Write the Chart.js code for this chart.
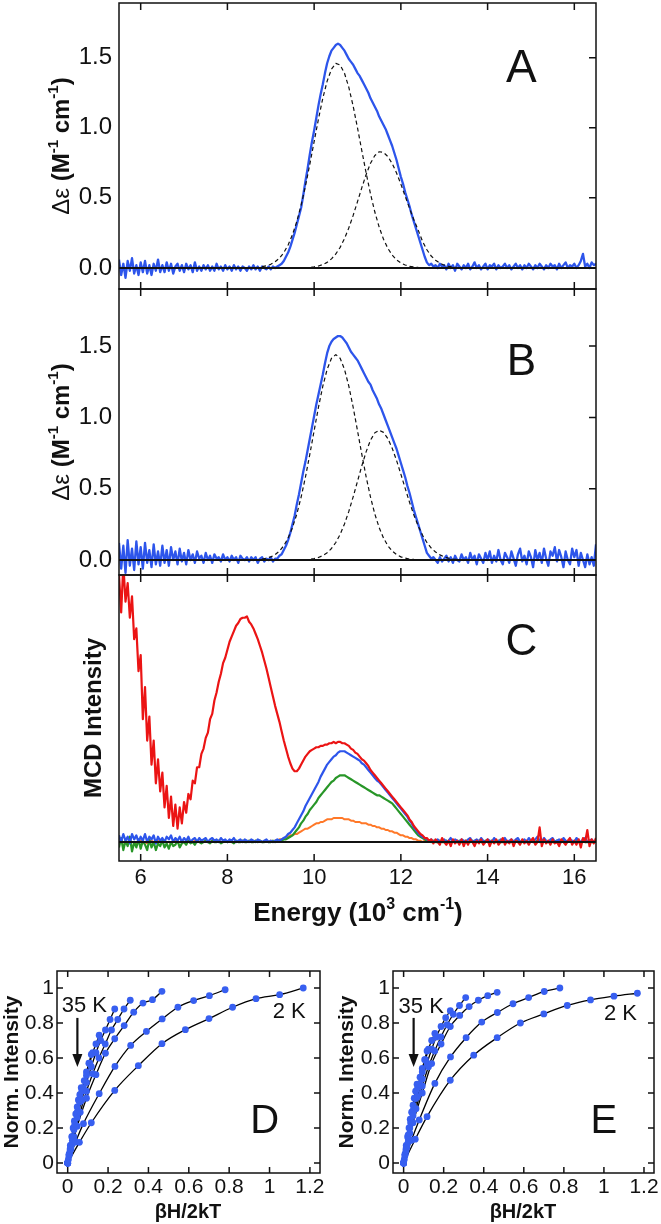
<!DOCTYPE html>
<html>
<head>
<meta charset="utf-8">
<script src="https://cdn.jsdelivr.net/npm/chart.js@4.4.1/dist/chart.umd.min.js"></script>
<style>
  body { margin: 0; background: #fff; width: 661px; height: 1224px; position: relative; overflow: hidden; }
  canvas { position: absolute; }
</style>
</head>
<body>
<canvas id="panelA" width="661" height="300" style="left:0;top:0"></canvas>
<canvas id="panelB" width="661" height="310" style="left:0;top:280px"></canvas>
<canvas id="panelC" width="661" height="370" style="left:0;top:566px"></canvas>
<canvas id="panelD" width="330" height="284" style="left:0;top:940px"></canvas>
<canvas id="panelE" width="331" height="284" style="left:330px;top:940px"></canvas>
<script>
// --- tick labels ---
const energyTicks = [6, 8, 10, 12, 14, 16];
const epsTicks = [0, 0.5, 1.0, 1.5];
const satTicksX = [0, 0.2, 0.4, 0.6, 0.8, 1, 1.2];
const satTicksY = [0, 0.2, 0.4, 0.6, 0.8, 1];

// --- energy grid of the spectra (10^3 cm-1) ---
const energy = [
  5.50,5.55,5.60,5.65,5.70,5.75,5.80,5.85,5.90,5.95,
  6.00,6.05,6.10,6.15,6.20,6.25,6.30,6.35,6.40,6.45,
  6.50,6.55,6.60,6.65,6.70,6.75,6.80,6.85,6.90,6.95,
  7.00,7.05,7.10,7.15,7.20,7.25,7.30,7.35,7.40,7.45,
  7.50,7.55,7.60,7.65,7.70,7.75,7.80,7.85,7.90,7.95,
  8.00,8.05,8.10,8.15,8.20,8.25,8.30,8.35,8.40,8.45,
  8.50,8.55,8.60,8.65,8.70,8.75,8.80,8.85,8.90,8.95,
  9.00,9.05,9.10,9.15,9.20,9.25,9.30,9.35,9.40,9.45,
  9.50,9.55,9.60,9.65,9.70,9.75,9.80,9.85,9.90,9.95,
  10.00,10.05,10.10,10.15,10.20,10.25,10.30,10.35,10.40,10.45,
  10.50,10.55,10.60,10.65,10.70,10.75,10.80,10.85,10.90,10.95,
  11.00,11.05,11.10,11.15,11.20,11.25,11.30,11.35,11.40,11.45,
  11.50,11.55,11.60,11.65,11.70,11.75,11.80,11.85,11.90,11.95,
  12.00,12.05,12.10,12.15,12.20,12.25,12.30,12.35,12.40,12.45,
  12.50,12.55,12.60,12.65,12.70,12.75,12.80,12.85,12.90,12.95,
  13.00,13.05,13.10,13.15,13.20,13.25,13.30,13.35,13.40,13.45,
  13.50,13.55,13.60,13.65,13.70,13.75,13.80,13.85,13.90,13.95,
  14.00,14.05,14.10,14.15,14.20,14.25,14.30,14.35,14.40,14.45,
  14.50,14.55,14.60,14.65,14.70,14.75,14.80,14.85,14.90,14.95,
  15.00,15.05,15.10,15.15,15.20,15.25,15.30,15.35,15.40,15.45,
  15.50,15.55,15.60,15.65,15.70,15.75,15.80,15.85,15.90,15.95,
  16.00,16.05,16.10,16.15,16.20,16.25,16.30,16.35,16.40,16.45,
  16.50
];

// panel A, measured CD
const cdA = [
  0.06,-0.05,0.03,-0.07,0.05,-0.02,0.07,-0.04,0.02,-0.05,
  0.04,-0.03,0.05,-0.04,0.02,-0.05,0.03,-0.02,0.06,-0.03,
  0.02,-0.03,0.04,-0.02,0.03,-0.04,0.01,0.03,-0.02,0.02,
  -0.03,0.03,-0.01,0.02,-0.03,0.04,-0.02,0.01,-0.02,0.02,
  -0.01,0.02,-0.02,0.01,-0.02,0.03,-0.01,0.01,-0.02,0.02,
  -0.01,0.01,-0.02,0.02,-0.01,0.01,-0.02,0.01,0.00,-0.02,
  0.01,-0.01,0.02,-0.01,0.01,-0.02,0.01,0.00,-0.01,0.01,
  -0.01,0.01,0.00,0.01,0.02,0.03,0.05,0.08,0.11,0.15,
  0.20,0.25,0.31,0.37,0.43,0.52,0.62,0.71,0.81,0.90,
  0.98,1.07,1.16,1.24,1.31,1.39,1.46,1.51,1.55,1.57,
  1.59,1.60,1.59,1.57,1.55,1.52,1.49,1.47,1.45,1.42,
  1.39,1.37,1.34,1.31,1.28,1.25,1.21,1.18,1.15,1.12,
  1.08,1.05,1.02,0.99,0.95,0.91,0.87,0.82,0.77,0.71,
  0.65,0.60,0.54,0.49,0.44,0.38,0.33,0.28,0.23,0.18,
  0.13,0.08,0.04,0.02,0.03,0.01,0.02,0.00,0.03,0.01,
  0.02,-0.01,0.03,0.00,0.02,-0.02,0.03,0.01,-0.01,0.02,
  0.00,0.03,-0.01,0.01,0.04,0.00,0.02,-0.01,0.01,0.03,
  -0.01,0.02,0.01,0.03,-0.01,0.02,0.00,0.01,0.03,0.00,
  0.02,-0.01,0.01,0.03,0.00,0.02,-0.01,0.02,0.00,0.03,
  0.01,-0.01,0.02,0.00,0.03,0.01,-0.01,0.02,0.00,0.03,
  0.01,0.02,-0.01,0.03,0.00,0.02,0.04,0.00,0.02,0.01,
  0.03,0.00,0.02,0.05,0.10,0.01,0.03,0.00,0.04,0.02,
  0.03
];

// panel B, measured CD
const cdB = [
  0.12,-0.06,0.10,-0.09,0.14,-0.04,0.08,-0.07,0.13,-0.03,
  0.09,-0.06,0.12,-0.02,0.07,-0.05,0.11,-0.03,0.06,-0.04,
  0.10,-0.02,0.07,-0.04,0.09,0.00,0.06,-0.03,0.08,-0.01,
  0.05,-0.03,0.07,0.00,0.04,-0.02,0.06,0.01,0.03,-0.02,
  0.05,0.00,0.03,-0.02,0.04,0.01,0.02,-0.01,0.04,0.00,
  0.02,-0.01,0.03,0.00,0.02,-0.02,0.03,0.01,0.00,0.02,
  -0.01,0.02,0.00,0.02,-0.02,0.01,0.02,-0.01,0.01,0.00,
  0.02,-0.01,0.01,0.01,0.03,0.04,0.07,0.10,0.14,0.19,
  0.25,0.31,0.39,0.46,0.54,0.62,0.69,0.77,0.85,0.93,
  1.01,1.09,1.16,1.23,1.30,1.38,1.45,1.50,1.53,1.55,
  1.56,1.57,1.57,1.56,1.54,1.52,1.49,1.46,1.44,1.42,
  1.40,1.37,1.34,1.31,1.28,1.25,1.23,1.19,1.16,1.13,
  1.09,1.06,1.02,0.98,0.94,0.90,0.86,0.82,0.78,0.73,
  0.68,0.63,0.58,0.52,0.47,0.41,0.35,0.30,0.25,0.20,
  0.15,0.10,0.05,0.03,0.01,0.02,0.00,-0.02,0.02,-0.01,
  0.01,0.03,-0.01,0.02,-0.02,0.03,0.00,-0.01,0.04,0.00,
  0.02,-0.02,0.05,0.00,0.03,-0.03,0.04,0.01,-0.02,0.05,
  0.00,0.06,-0.02,0.03,-0.01,0.07,0.00,-0.03,0.05,0.02,
  -0.02,0.06,0.01,-0.04,0.04,0.08,-0.01,0.03,-0.03,0.06,
  0.02,-0.05,0.07,0.00,0.05,-0.02,0.08,0.01,-0.04,0.06,
  0.03,0.09,-0.01,0.07,0.02,-0.05,0.06,0.00,-0.03,0.08,
  0.02,0.07,-0.04,0.05,0.00,-0.05,0.04,-0.03,0.02,-0.04,
  0.11
];

// Gaussian fit components (A and B), on their own grid
const fitEnergy = [
  8.8,8.9,9.0,9.1,9.2,9.3,9.4,9.5,9.6,9.7,
  9.8,9.9,10.0,10.1,10.2,10.3,10.4,10.5,10.6,10.7,
  10.8,10.9,11.0,11.1,11.2,11.3,11.4,11.5,11.6,11.7,
  11.8,11.9,12.0,12.1,12.2,12.3,12.4,12.5,12.6,12.7,
  12.8,12.9,13.0,13.1,13.2,13.3,13.4
];
const fitA1 = [
  0.009,0.015,0.026,0.044,0.070,0.109,0.164,0.237,0.331,0.448,
  0.585,0.739,0.902,1.063,1.211,1.333,1.418,1.459,1.448,1.389,
  1.288,1.154,0.999,0.836,0.676,0.528,0.399,0.291,0.205,0.140,
  0.092,0.058,0.036,0.021,0.012,0.007,0.004,0.002,0.001,0,
  0,0,0,0,0,0,0
];
const fitA2 = [
  0,0,0,0,0,0,0,0,0,0,
  0.002,0.004,0.008,0.014,0.024,0.040,0.065,0.100,0.147,0.209,
  0.286,0.375,0.473,0.573,0.667,0.747,0.802,0.829,0.824,0.795,
  0.745,0.678,0.598,0.512,0.426,0.344,0.270,0.190,0.130,0.085,
  0.055,0.035,0.020,0.012,0.006,0.003,0.001
];
const fitB1 = [
  0.007,0.013,0.022,0.038,0.063,0.100,0.154,0.227,0.322,0.441,
  0.582,0.740,0.907,1.071,1.219,1.337,1.414,1.440,1.414,1.337,
  1.219,1.071,0.907,0.740,0.582,0.441,0.322,0.227,0.154,0.100,
  0.063,0.038,0.022,0.013,0.007,0.004,0.002,0.001,0,0,
  0,0,0,0,0,0,0
];
const fitB2 = [
  0,0,0,0,0,0,0,0,0,0,
  0,0.006,0.010,0.018,0.031,0.051,0.081,0.123,0.180,0.253,
  0.341,0.443,0.552,0.661,0.760,0.840,0.892,0.910,0.895,0.852,
  0.784,0.699,0.602,0.502,0.405,0.316,0.239,0.174,0.123,0.084,
  0.056,0.036,0.022,0.013,0.007,0.004,0.002
];

// panel C, MCD (arbitrary units)
const mcdRed = [
  100,86,104,90,97,84,92,76,80,64,
  70,46,58,38,47,29,38,22,31,19,
  26,13,21,9,17,6,14,5,13,7,
  15,11,18,16,23,22,28,28,33,35,
  39,41,46,48,53,56,60,63,67,69,
  72,75,77,79,81,82,83.5,84,84,84.5,
  82.5,81.5,80,78,76,73.5,71,68,65,61.5,
  58,54.5,51,48,45,41.5,38,35,32,29.5,
  27.5,26.5,26.5,27.5,29,30.5,32,33,34,34.5,
  35,35.5,35.5,36,36,36.5,36.5,37,37,37.5,
  37,37.5,37.5,37,37,36.5,36,35,34.5,33.5,
  33,32,31,30.5,29.5,28.5,27,26,25,24,
  23,22,21,20,19,18,17,16,15,14,
  13,12,11,10,8.5,7.5,6,5,4,3,
  2.5,1.5,1.5,0.5,1,-0.5,1,0,-1,1.5,
  0,-1,0.5,-1.5,1,-0.5,0.5,-1,1,-1.5,
  0.5,-1,1,0,-1.5,0.5,-0.5,1,-1,0,
  1,-1.5,0.5,-0.5,1,-1,0,1.5,-1,0.5,
  -0.5,1,-1.5,0.5,0,-1,1,-0.5,0.5,-1,
  0.5,1.5,-1,0,5.5,-1.5,1,-0.5,0.5,-1,
  1,-0.5,0,-1.5,1,0,-1,0.5,1.5,-1,
  0.5,-1,1,-2,1.5,0,4.5,-1.5,1,-0.5,
  1.5
];
const mcdBlue = [
  2.5,0,3,0.5,2,-0.5,3,1,2.5,0,
  2,0.5,3,0,2,1,2.5,-0.5,2,0.5,
  1.5,0,2,1,2.5,0,1.5,0.5,2,0,
  1.5,0.5,2,0,1,1.5,0,1.5,0.5,1,
  1.5,0,1,1.5,0.5,1,0,1.5,0.5,1,
  0,1,0.5,1.5,0,0.5,1,0,1,0.5,
  0,1,0.5,0,1,0.5,0,0.5,1,0,
  0.5,0,0.5,1,0.5,1,1.5,2,3,3.5,
  4.5,5.5,7,8.5,10,11.5,13.5,15,16.5,18,
  19.5,21,22.5,24.5,26,27.5,29,30,31,32,
  32.5,33.5,34,34,34,33.5,33,32.5,32,31.5,
  31,30.5,29.5,29,28,27,26,25,24,23,
  22.5,21.5,20.5,19.5,18.5,17.5,16.5,15.5,14.5,13.5,
  12.5,11.5,10.5,9.5,8,7,5.5,4.5,3.5,2.5,
  2,1.5,1,0.5,1,0,0.5,1,0,0.5,
  1,0,0.5,1.5,0,1,0.5,0,1,0.5,
  0,1,1.5,0,0.5,1,0,1.5,0.5,0,
  1,0.5,0,1.5,0.5,0,1,0.5,1.5,0,
  0.5,1,0,1,1.5,0,0.5,1,0,1.5,
  0.5,0,1,2,0.5,0,1.5,0.5,0,1,
  1.5,0,0.5,1,0,1.5,0.5,0,1,0.5,
  0,1.5,0.5,0,1,1.5,0,0.5,1,0,
  0.5
];
const mcdGreen = [
  -2,1.5,-3,0.5,-1.5,2,-3.5,0,-2,1,
  -2.5,0.5,-1,-3,1,-2,0,-3,-0.5,-1.5,
  0.5,-2,-0.5,-2.5,0,-1.5,-1,0.5,-2,-0.5,
  0,-1,0.5,-0.5,0,-1,0.5,0,-0.5,0,
  0.5,0,-0.5,0.5,0,0,0.5,-0.5,0,0.5,
  0,0.5,0,-0.5,0.5,0,0,0.5,0,0,
  0.5,0,0,0.5,0,0.5,0,0,0.5,0,
  0,0.5,0,0.5,0.5,0.5,1,1,1.5,2,
  2.5,3.5,4.5,5.5,7,8,9.5,10.5,12,13,
  14,15,16.5,17.5,18.5,19.5,20.5,21.5,22.5,23,
  24,24.5,25,25,25,24.5,24,23.5,23,22.5,
  22,21.5,21,20.5,20,19.5,19,18.5,18,17.5,
  17.5,17,16.5,16,15.5,15,14.5,13.5,12.5,11.5,
  10.5,9.5,8.5,7.5,6.5,5.5,4.5,3.5,2.5,2,
  1.5,1,0.5,0.5,0,0.5,0,0,0.5,0,
  0,0.5,0,0,0.5,0,0,0.5,0,0,
  0.5,0,0,0.5,0,0,0.5,0,0,0.5,
  0,0,0.5,0,0,0.5,0,0,0.5,0,
  0,0.5,0,0,0.5,0,0,0.5,0,0,
  0.5,0,0,0.5,0,0,0.5,0,0,0.5,
  0,0,0.5,0,0,0.5,0,0,0.5,0,
  0,0.5,0,0,0.5,0,0,0.5,0,0,
  0.5
];
const mcdOrange = [
  0,0.5,0,-0.5,0,0.5,0,0,-0.5,0,
  0.5,0,0,-0.5,0,0.5,0,0,0.5,0,
  0,0.5,0,0,-0.5,0,0.5,0,0,0.5,
  0,0,0.5,0,0,0.5,0,0,0.5,0,
  0.5,0,0,0.5,0,0,0.5,0,0,0.5,
  0,0.5,0,0,0.5,0,0,0.5,0,0,
  0.5,0,0,0.5,0,0.5,0,0,0.5,0,
  0.5,0,0.5,0.5,1,1,1.5,1.5,2,2.5,
  2.5,3,3,3.5,4,4.5,5,5,5.5,6,
  6.5,7,7,7.5,7.5,8,8.5,8.5,8.5,9,
  9,9,9,9,8.5,8.5,8.5,8,8,7.5,
  7.5,7.5,7,7,7,6.5,6.5,6,6,5.5,
  5.5,5,5,4.5,4.5,4,4,3.5,3.5,3,
  2.5,2.5,2,2,1.5,1.5,1,1,0.5,0.5,
  0,0.5,0,0,0.5,0,0,0,0.5,0,
  0,0.5,0,0,0,0.5,0,0,0,0.5,
  0,0,0.5,0,0,0,0.5,0,0,0,
  0.5,0,0,0,0.5,0,0,0,0.5,0,
  0,0,0.5,0,0,0,0.5,0,0,0,
  0.5,0,0,0,0.5,0,0,0,0.5,0,
  0,0,0.5,0,0,0,0.5,0,0,0,
  0.5,0,0,0,0.5,0,0,0,0.5,0,
  0
];

// --- saturation magnetization (D, E): βH/2kT per temperature ---
const x2K  = [0, 0.058, 0.117, 0.233, 0.35, 0.467, 0.583, 0.70, 0.817, 0.933, 1.05, 1.167];
const x3K  = [0, 0.039, 0.078, 0.156, 0.234, 0.312, 0.39, 0.468, 0.546, 0.624, 0.702, 0.78];
const x5K  = [0, 0.023, 0.047, 0.093, 0.14, 0.187, 0.233, 0.28, 0.327, 0.373, 0.42, 0.467];
const x7K  = [0, 0.016, 0.031, 0.062, 0.093, 0.124, 0.155, 0.186, 0.217, 0.248, 0.279, 0.31];
const x10K = [0, 0.012, 0.023, 0.047, 0.07, 0.093, 0.117, 0.14, 0.163, 0.187, 0.21, 0.233];
const x15K = [0, 0.008, 0.016, 0.031, 0.047, 0.062, 0.078, 0.093, 0.109, 0.124, 0.14, 0.156];
const x20K = [0, 0.006, 0.012, 0.023, 0.035, 0.047, 0.058, 0.07, 0.082, 0.093, 0.105, 0.117];
const x35K = [0, 0.0033, 0.0067, 0.013, 0.02, 0.027, 0.033, 0.04, 0.047, 0.053, 0.06, 0.067];

// panel D normalized intensity
const d2K  = [0, 0.118, 0.23, 0.415, 0.556, 0.682, 0.762, 0.825, 0.89, 0.939, 0.962, 1.0];
const d3K  = [0, 0.12, 0.225, 0.396, 0.552, 0.672, 0.752, 0.823, 0.89, 0.928, 0.956, 0.99];
const d5K  = [0, 0.11, 0.21, 0.37, 0.505, 0.627, 0.71, 0.785, 0.862, 0.914, 0.933, 0.981];
const d7K  = [0, 0.08, 0.15, 0.29, 0.41, 0.51, 0.6, 0.68, 0.76, 0.82, 0.88, 0.93];
const d10K = [0, 0.07, 0.13, 0.26, 0.36, 0.46, 0.55, 0.63, 0.7, 0.76, 0.82, 0.88];
const d15K = [0, 0.05, 0.1, 0.19, 0.28, 0.35, 0.43, 0.5, 0.57, 0.63, 0.68, 0.73];
const d20K = [0, 0.04, 0.08, 0.15, 0.22, 0.29, 0.35, 0.41, 0.47, 0.52, 0.57, 0.62];
const d35K = [0, 0.02, 0.05, 0.1, 0.15, 0.2, 0.24, 0.28, 0.32, 0.36, 0.39, 0.43];

// panel E normalized intensity
const e2K  = [0, 0.136, 0.265, 0.473, 0.616, 0.716, 0.80, 0.852, 0.90, 0.932, 0.953, 0.97];
const e3K  = [0, 0.13, 0.246, 0.455, 0.606, 0.716, 0.805, 0.86, 0.91, 0.945, 0.98, 1.0];
const e5K  = [0, 0.12, 0.23, 0.40, 0.568, 0.68, 0.78, 0.843, 0.894, 0.93, 0.956, 0.975];
const e7K  = [0, 0.09, 0.17, 0.31, 0.44, 0.55, 0.64, 0.72, 0.79, 0.85, 0.9, 0.945];
const e10K = [0, 0.07, 0.14, 0.27, 0.38, 0.48, 0.57, 0.65, 0.72, 0.78, 0.83, 0.87];
const e15K = [0, 0.05, 0.1, 0.2, 0.29, 0.37, 0.45, 0.52, 0.59, 0.65, 0.7, 0.74];
const e20K = [0, 0.04, 0.08, 0.16, 0.23, 0.3, 0.37, 0.43, 0.49, 0.54, 0.59, 0.64];
const e35K = [0, 0.02, 0.05, 0.1, 0.15, 0.2, 0.25, 0.29, 0.33, 0.37, 0.41, 0.45];

// --- styling ---
const FONT = '"Liberation Sans", Arial, Helvetica, sans-serif';
const INK = '#111';
const BLUE = 'rgb(45,85,235)';
const RED = 'rgb(235,20,20)';
const GREEN = 'rgb(40,150,40)';
const ORANGE = 'rgb(255,120,40)';
const DOT = 'rgb(55,95,240)';
const font = (size, bold) => (bold ? 'bold ' : '') + size + 'px ' + FONT;

const pairs = (xs, ys) => xs.map((x, i) => ({ x: x, y: ys[i] }));

// text made of runs (for superscripts), centred on cx, baseline at cy
function drawRich(ctx, parts, cx, cy, rot) {
  ctx.save();
  ctx.translate(cx, cy);
  ctx.rotate(rot || 0);
  ctx.textBaseline = 'alphabetic';
  ctx.textAlign = 'left';
  ctx.fillStyle = INK;
  let w = 0;
  parts.forEach(p => { ctx.font = p.font; w += ctx.measureText(p.t).width; });
  let x = -w / 2;
  parts.forEach(p => {
    ctx.font = p.font;
    ctx.fillText(p.t, x, p.dy || 0);
    x += ctx.measureText(p.t).width;
  });
  ctx.restore();
}

// scales keep exactly the size we give them (no label overhang padding)
const fixY = w => s => { s.width = w; s.paddingTop = 0; s.paddingBottom = 0; };
const fixX = h => s => { s.height = h; s.paddingLeft = 0; s.paddingRight = 0; };
const noGrid = { display: false, drawTicks: false };

// frame, inward ticks, zero line and annotations
const decoPlugin = {
  id: 'deco',
  afterDatasetsDraw(chart, args, o) {
    const { ctx, chartArea: a, scales: { x, y } } = chart;
    ctx.save();
    ctx.strokeStyle = INK;
    if (o.zeroLine) {
      const py = y.getPixelForValue(0);
      ctx.lineWidth = 2;
      ctx.beginPath(); ctx.moveTo(a.left, py); ctx.lineTo(a.right, py); ctx.stroke();
    }
    ctx.lineWidth = 1.5;
    ctx.strokeRect(a.left, a.top, a.right - a.left, a.bottom - a.top);
    const L = o.tickLen || 7;
    ctx.beginPath();
    x.ticks.forEach(t => {
      const px = x.getPixelForValue(t.value);
      if (o.xTop) { ctx.moveTo(px, a.top); ctx.lineTo(px, a.top + L); }
      if (o.xBottom) { ctx.moveTo(px, a.bottom); ctx.lineTo(px, a.bottom - L); }
    });
    y.ticks.forEach(t => {
      const py = y.getPixelForValue(t.value);
      if (o.yLeft) { ctx.moveTo(a.left, py); ctx.lineTo(a.left + L, py); }
      if (o.yRight) { ctx.moveTo(a.right, py); ctx.lineTo(a.right - L, py); }
    });
    ctx.stroke();

    ctx.fillStyle = INK;
    (o.labels || []).forEach(l => {
      ctx.font = l.font;
      ctx.textAlign = l.align || 'left';
      ctx.textBaseline = 'alphabetic';
      ctx.fillText(l.text, x.getPixelForValue(l.x), y.getPixelForValue(l.y));
    });
    (o.arrows || []).forEach(ar => {
      const px = x.getPixelForValue(ar.x);
      const p1 = y.getPixelForValue(ar.y1), p2 = y.getPixelForValue(ar.y2);
      ctx.lineWidth = 2.2;
      ctx.beginPath(); ctx.moveTo(px, p1); ctx.lineTo(px, p2 - 10); ctx.stroke();
      ctx.beginPath(); ctx.moveTo(px - 5, p2 - 13); ctx.lineTo(px + 5, p2 - 13); ctx.lineTo(px, p2); ctx.closePath(); ctx.fill();
    });
    ctx.restore();
  },
  afterDraw(chart, args, o) {
    (o.titles || []).forEach(t => drawRich(chart.ctx, t.parts, t.x, t.y, t.rot));
  }
};

function spectrumChart(id, cfg) {
  return new Chart(document.getElementById(id), {
    type: 'line',
    data: { datasets: cfg.datasets },
    options: {
      responsive: false,
      animation: false,
      events: [],
      layout: { padding: cfg.padding },
      elements: { point: { radius: 0 }, line: { tension: 0, borderJoinStyle: 'round' } },
      plugins: { legend: { display: false }, tooltip: { enabled: false }, deco: cfg.deco },
      scales: {
        x: {
          type: 'linear', min: 5.5, max: 16.5,
          afterBuildTicks: s => { s.ticks = energyTicks.map(v => ({ value: v })); },
          afterFit: fixX(cfg.xHeight),
          grid: noGrid, border: { display: false },
          ticks: { display: cfg.showX, color: INK, font: { family: FONT, size: 22 }, padding: 4, callback: v => String(v) }
        },
        y: {
          type: 'linear', min: cfg.yMin, max: cfg.yMax,
          afterBuildTicks: s => { s.ticks = (cfg.yTicks || []).map(v => ({ value: v })); },
          afterFit: fixY(119),
          grid: noGrid, border: { display: false },
          ticks: { display: !!cfg.yTicks, color: INK, font: { family: FONT, size: 24 }, padding: 7, callback: v => v.toFixed(1) }
        }
      }
    },
    plugins: [decoPlugin]
  });
}

const solid = (xs, ys, color, w) => ({ data: pairs(xs, ys), borderColor: color, borderWidth: w || 2, fill: false });
const dashed = (xs, ys) => ({ data: pairs(xs, ys), borderColor: '#111', borderWidth: 1.2, borderDash: [4, 3], fill: false });

const epsTitle = [
  { t: 'Δε', font: font(24, false) },
  { t: ' (M', font: font(24, true) },
  { t: '-1', font: font(15, true), dy: -11 },
  { t: ' cm', font: font(24, true) },
  { t: '-1', font: font(15, true), dy: -11 },
  { t: ')', font: font(24, true) }
];
const rot = -Math.PI / 2;

spectrumChart('panelA', {
  padding: { top: 3, right: 65, bottom: 11, left: 0 },
  xHeight: 0, showX: false,
  yMin: -0.15, yMax: 1.89, yTicks: epsTicks,
  datasets: [dashed(fitEnergy, fitA1), dashed(fitEnergy, fitA2), solid(energy, cdA, BLUE, 2.3)],
  deco: {
    zeroLine: true, xTop: true, xBottom: true, yRight: true,
    labels: [{ text: 'A', x: 14.78, y: 1.33, font: font(46), align: 'center' }],
    titles: [{ parts: epsTitle, x: 69, y: 146, rot: rot }]
  }
});

spectrumChart('panelB', {
  padding: { top: 9, right: 65, bottom: 15, left: 0 },
  xHeight: 0, showX: false,
  yMin: -0.105, yMax: 1.90, yTicks: epsTicks,
  datasets: [dashed(fitEnergy, fitB1), dashed(fitEnergy, fitB2), solid(energy, cdB, BLUE, 2.3)],
  deco: {
    zeroLine: true, xTop: true, xBottom: true, yRight: true,
    labels: [{ text: 'B', x: 14.78, y: 1.30, font: font(44), align: 'center' }],
    titles: [{ parts: epsTitle, x: 69, y: 432 - 280, rot: rot }]
  }
});

spectrumChart('panelC', {
  padding: { top: 9, right: 65, bottom: 0, left: 0 },
  xHeight: 75, showX: true,
  yMin: -7.1, yMax: 100, yTicks: null,
  datasets: [
    solid(energy, mcdRed, RED, 2.2),
    solid(energy, mcdBlue, BLUE, 2.2),
    solid(energy, mcdGreen, GREEN, 2.2),
    solid(energy, mcdOrange, ORANGE, 2)
  ],
  deco: {
    zeroLine: true, xTop: true, xBottom: true,
    labels: [{ text: 'C', x: 14.78, y: 70, font: font(44), align: 'center' }],
    titles: [
      { parts: [{ t: 'MCD Intensity', font: font(24, true) }], x: 101, y: 718 - 566, rot: rot },
      { parts: [
          { t: 'Energy (10', font: font(26, true) },
          { t: '3', font: font(16, true), dy: -12 },
          { t: ' cm', font: font(26, true) },
          { t: '-1', font: font(16, true), dy: -12 },
          { t: ')', font: font(26, true) }
        ], x: 358, y: 921 - 566, rot: 0 }
    ]
  }
});

function saturationChart(id, cfg) {
  const datasets = [];
  cfg.series.forEach(s => datasets.push({
    data: pairs(s[0], s[1]), showLine: false,
    pointRadius: 3.4, pointBackgroundColor: DOT, pointBorderWidth: 0
  }));
  cfg.series.forEach(s => datasets.push({
    data: pairs(s[0], s[1]), showLine: true, borderColor: '#000', borderWidth: 1.3,
    pointRadius: 0, cubicInterpolationMode: 'monotone', fill: false
  }));
  return new Chart(document.getElementById(id), {
    type: 'scatter',
    data: { datasets: datasets },
    options: {
      responsive: false,
      animation: false,
      events: [],
      layout: { padding: cfg.padding },
      plugins: { legend: { display: false }, tooltip: { enabled: false }, deco: cfg.deco },
      scales: {
        x: {
          type: 'linear', min: -0.053, max: 1.25,
          afterBuildTicks: s => { s.ticks = satTicksX.map(v => ({ value: v })); },
          afterFit: fixX(51),
          grid: noGrid, border: { display: false },
          ticks: { color: INK, font: { family: FONT, size: 21 }, padding: 2, callback: v => String(v) }
        },
        y: {
          type: 'linear', min: -0.057, max: 1.097,
          afterBuildTicks: s => { s.ticks = satTicksY.map(v => ({ value: v })); },
          afterFit: fixY(cfg.yWidth),
          grid: noGrid, border: { display: false },
          ticks: { color: INK, font: { family: FONT, size: 21 }, padding: 3, callback: v => String(v) }
        }
      }
    },
    plugins: [decoPlugin]
  });
}

const normTitle = [{ t: 'Norm. Intensity', font: font(21, true) }];
const betaTitle = [{ t: 'βH/2kT', font: font(20, true) }];

saturationChart('panelD', {
  padding: { top: 31, right: 10, bottom: 0, left: 0 },
  yWidth: 57,
  series: [[x2K, d2K], [x3K, d3K], [x5K, d5K], [x7K, d7K], [x10K, d10K], [x15K, d15K], [x20K, d20K], [x35K, d35K]],
  deco: {
    xTop: true, xBottom: true, yLeft: true, yRight: true, tickLen: 6,
    labels: [
      { text: '35 K', x: -0.03, y: 0.863, font: font(22) },
      { text: '2 K', x: 1.016, y: 0.829, font: font(22) },
      { text: 'D', x: 0.976, y: 0.171, font: font(40), align: 'center' }
    ],
    arrows: [{ x: 0.048, y1: 0.829, y2: 0.549 }],
    titles: [
      { parts: normTitle, x: 18, y: 1072 - 940, rot: rot },
      { parts: betaTitle, x: 188, y: 1218 - 940, rot: 0 }
    ]
  }
});

saturationChart('panelE', {
  padding: { top: 31, right: 7, bottom: 0, left: 0 },
  yWidth: 63,
  series: [[x2K, e2K], [x3K, e3K], [x5K, e5K], [x7K, e7K], [x10K, e10K], [x15K, e15K], [x20K, e20K], [x35K, e35K]],
  deco: {
    xTop: true, xBottom: true, yLeft: true, yRight: true, tickLen: 6,
    labels: [
      { text: '35 K', x: -0.025, y: 0.857, font: font(22) },
      { text: '2 K', x: 1.0, y: 0.817, font: font(22) },
      { text: 'E', x: 1.0, y: 0.171, font: font(40), align: 'center' }
    ],
    arrows: [{ x: 0.05, y1: 0.829, y2: 0.549 }],
    titles: [
      { parts: normTitle, x: 23, y: 1072 - 940, rot: rot },
      { parts: betaTitle, x: 193, y: 1218 - 940, rot: 0 }
    ]
  }
});
</script>
</body>
</html>
